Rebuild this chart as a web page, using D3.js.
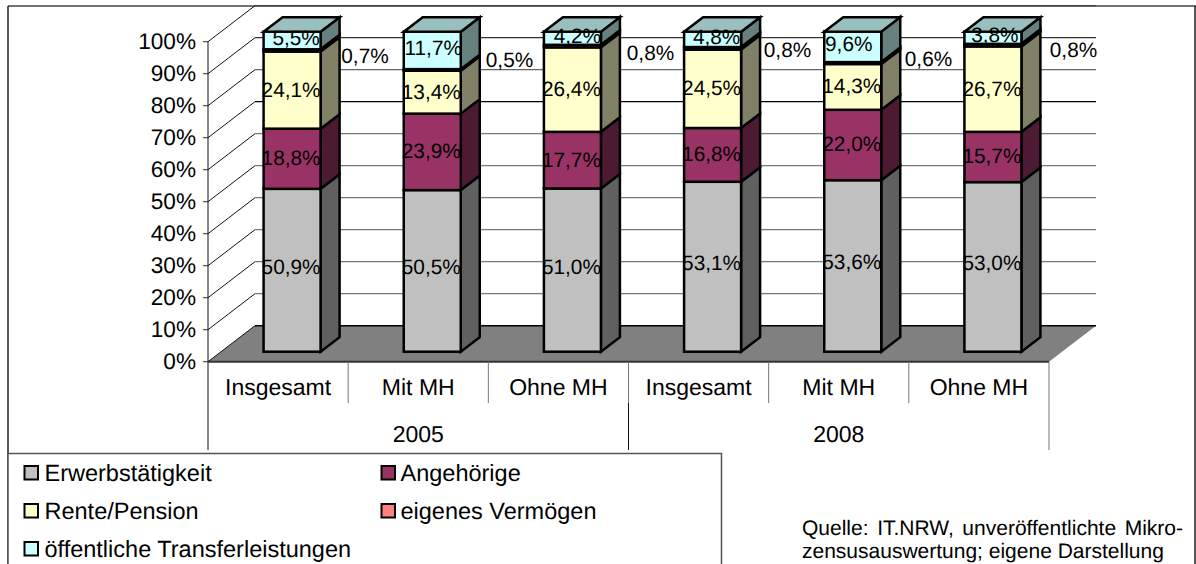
<!DOCTYPE html>
<html><head><meta charset="utf-8">
<script src="https://cdn.jsdelivr.net/npm/d3@7/dist/d3.min.js"></script>
<style>html,body{margin:0;padding:0;background:#fff}svg{display:block}text{font-family:"Liberation Sans",Arial,sans-serif;fill:#000;text-rendering:geometricPrecision}</style>
</head><body><svg id="c" width="1196" height="564"></svg>
<script>
const categories = ["Insgesamt","Mit MH","Ohne MH","Insgesamt","Mit MH","Ohne MH"];
const groups = ["2005","2008"];
const seriesNames = ["Erwerbstätigkeit","Angehörige","Rente/Pension","eigenes Vermögen","öffentliche Transferleistungen"];
const erwerb = [50.9,50.5,51.0,53.1,53.6,53.0];
const angehoerige = [18.8,23.9,17.7,16.8,22.0,15.7];
const rente = [24.1,13.4,26.4,24.5,14.3,26.7];
const vermoegen = [0.7,0.5,0.8,0.8,0.6,0.8];
const transfer = [5.5,11.7,4.2,4.8,9.6,3.8];
const yTicks = [0,10,20,30,40,50,60,70,80,90,100];
const sourceLines = ["Quelle: IT.NRW, unveröffentlichte Mikro-","zensusauswertung; eigene Darstellung"];

// colours and layout
const frontCol = ["#c0c0c0","#993366","#ffffcc","#ff8080","#ccffff"];
const sideCol  = ["#606060","#4d1a33","#808066","#804040","#668080"];
const topCol = "#99bfbf";
const gridCol = {100:"#444",90:"#333",80:"#666",70:"#000",60:"#777",50:"#777",40:"#777",30:"#777",20:"#777",10:"#777",0:"#000"};
const wallDx=47, wallDy=-36, barOffX=14, barOffY=-10, barDx=19, barDy=-14.5, barW=57;
const topLabelDx=[5,2,6,5,-3,3];      // hand placement of the top labels
const tinyLabelDy=[5,-10,6,1,-5,4];   // and of the outside labels
const tinyLabelX=[365,509.5,650.5,787.5,928.5,1073.5];

const svg=d3.select("#c");
const x=d3.scaleBand().domain(d3.range(categories.length)).range([208,1049]);
const y=d3.scaleLinear().domain([0,100]).range([361.7,41.7]);
const fmt=v=>v.toFixed(1).replace(".",",")+"%";
const line=(a,b,c,d,col,w=1)=>svg.append("line").attr("x1",a).attr("y1",b).attr("x2",c).attr("y2",d).attr("stroke",col).attr("stroke-width",w);

// frame
line(8,6,1196,6,"#444",1.5);
line(8,6,8,564,"#222",1.5);
line(1195,6,1195,564,"#222",1.5);

// floor
const x0=x.range()[0],x1=x.range()[1],y0=y(0);
svg.append("polygon").attr("fill","#808080")
 .attr("points",[[x0,y0],[x0+wallDx,y0+wallDy],[x1+wallDx,y0+wallDy],[x1,y0]].map(p=>p.join(",")).join(" "));

// walls
yTicks.forEach(t=>{
  const yy=y(t);
  line(x0-5,yy,x0,yy,"#333",1);
  line(x0,yy,x0+wallDx,yy+wallDy,"#111",1);
  line(x0+wallDx,yy+wallDy,x1+wallDx,yy+wallDy,gridCol[t],t===0?1.5:1.2);
  svg.append("text").attr("x",196).attr("y",yy+7.7).attr("text-anchor","end").attr("font-size",22.6).text(t+"%");
});
line(x0,y(100),x0,450,"#111",1);

// bars
const rows=categories.map((c,i)=>({i,s0:erwerb[i],s1:angehoerige[i],s2:rente[i],s3:vermoegen[i],s4:transfer[i]}));
const stacked=d3.stack().keys(["s0","s1","s2","s3","s4"])(rows);
const pts=a=>a.map(p=>p.join(",")).join(" ");
rows.forEach((r,i)=>{
  const L=x(i)+x.bandwidth()/2+barOffX-barW/2, R=L+barW;
  const g=svg.append("g").attr("stroke","#000").attr("stroke-width",2.5).attr("stroke-linejoin","miter");
  stacked.forEach((sr,k)=>{
    const [a,b]=sr[i];
    const ya=y(a)+barOffY, yb=y(b)+barOffY;
    g.append("polygon").attr("fill",sideCol[k]).attr("points",pts([[R,ya],[R+barDx,ya+barDy],[R+barDx,yb+barDy],[R,yb]]));
    g.append("rect").attr("fill",frontCol[k]).attr("x",L).attr("y",yb).attr("width",barW).attr("height",ya-yb);
  });
  const yT=y(100)+barOffY;
  g.append("polygon").attr("fill",topCol).attr("points",pts([[L,yT],[L+barDx,yT+barDy],[R+barDx,yT+barDy],[R,yT]]));
});

// data labels
rows.forEach((r,i)=>{
  const cx=x(i)+x.bandwidth()/2+barOffX-1;
  stacked.forEach((sr,k)=>{
    const [a,b]=sr[i], v=b-a, mid=y((a+b)/2)+barOffY;
    if(k===3){
      svg.append("text").attr("x",tinyLabelX[i]).attr("y",mid+tinyLabelDy[i]+7.5).attr("text-anchor","middle").attr("font-size",20.8).text(fmt(v));
      return;
    }
    const dy=k===0?-4:k===4?-3:-1, dx=k===4?topLabelDx[i]:0;
    svg.append("text").attr("x",cx+dx).attr("y",mid+dy+7.5).attr("text-anchor","middle").attr("font-size",20.8).text(fmt(v));
  });
});

// axis categories
svg.append("line").attr("x1",x0).attr("x2",x1).attr("y1",y0).attr("y2",y0).attr("stroke","#333").attr("stroke-width",2);
categories.forEach((c,i)=>{
  const cx=x(i)+x.bandwidth()/2;
  svg.append("text").attr("x",cx).attr("y",395).attr("text-anchor","middle").attr("font-size",23).text(c);
  if(i<categories.length-1 && i!==2) line(x(i)+x.bandwidth(),y0,x(i)+x.bandwidth(),403,"#777",1);
});
line(x(3),y0,x(3),403,"#777",1);
line(x(3),403,x(3),450,"#111",1);
line(x1,y0,x1,450,"#777",1);
groups.forEach((g,j)=>{
  svg.append("text").attr("x",x(j*3)+x.bandwidth()*1.5).attr("y",442).attr("text-anchor","middle").attr("font-size",23).text(g);
});

// legend
svg.append("rect").attr("x",8).attr("y",453.5).attr("width",713.5).attr("height",130).attr("fill","#fff").attr("stroke","#555").attr("stroke-width",1.5);
const lg=[[0,0],[1,0],[0,1],[1,1],[0,2]];
seriesNames.forEach((n,k)=>{
  const [c,rw]=lg[k], sx=c?381.5:24.5, ty=481+rw*38;
  svg.append("rect").attr("x",sx).attr("y",ty-15).attr("width",13.5).attr("height",13.5).attr("fill",frontCol[k]).attr("stroke","#000").attr("stroke-width",2);
  svg.append("text").attr("x",c?400.5:44.5).attr("y",ty).attr("font-size",23.5).text(n);
});

// source
const s1=svg.append("text").attr("x",802).attr("y",535).attr("font-size",21).text(sourceLines[0]);
const gaps=sourceLines[0].split(" ").length-1;
s1.attr("word-spacing",(1183-802-s1.node().getComputedTextLength())/gaps);
svg.append("text").attr("x",802).attr("y",558).attr("font-size",21).text(sourceLines[1]);
</script></body></html>
